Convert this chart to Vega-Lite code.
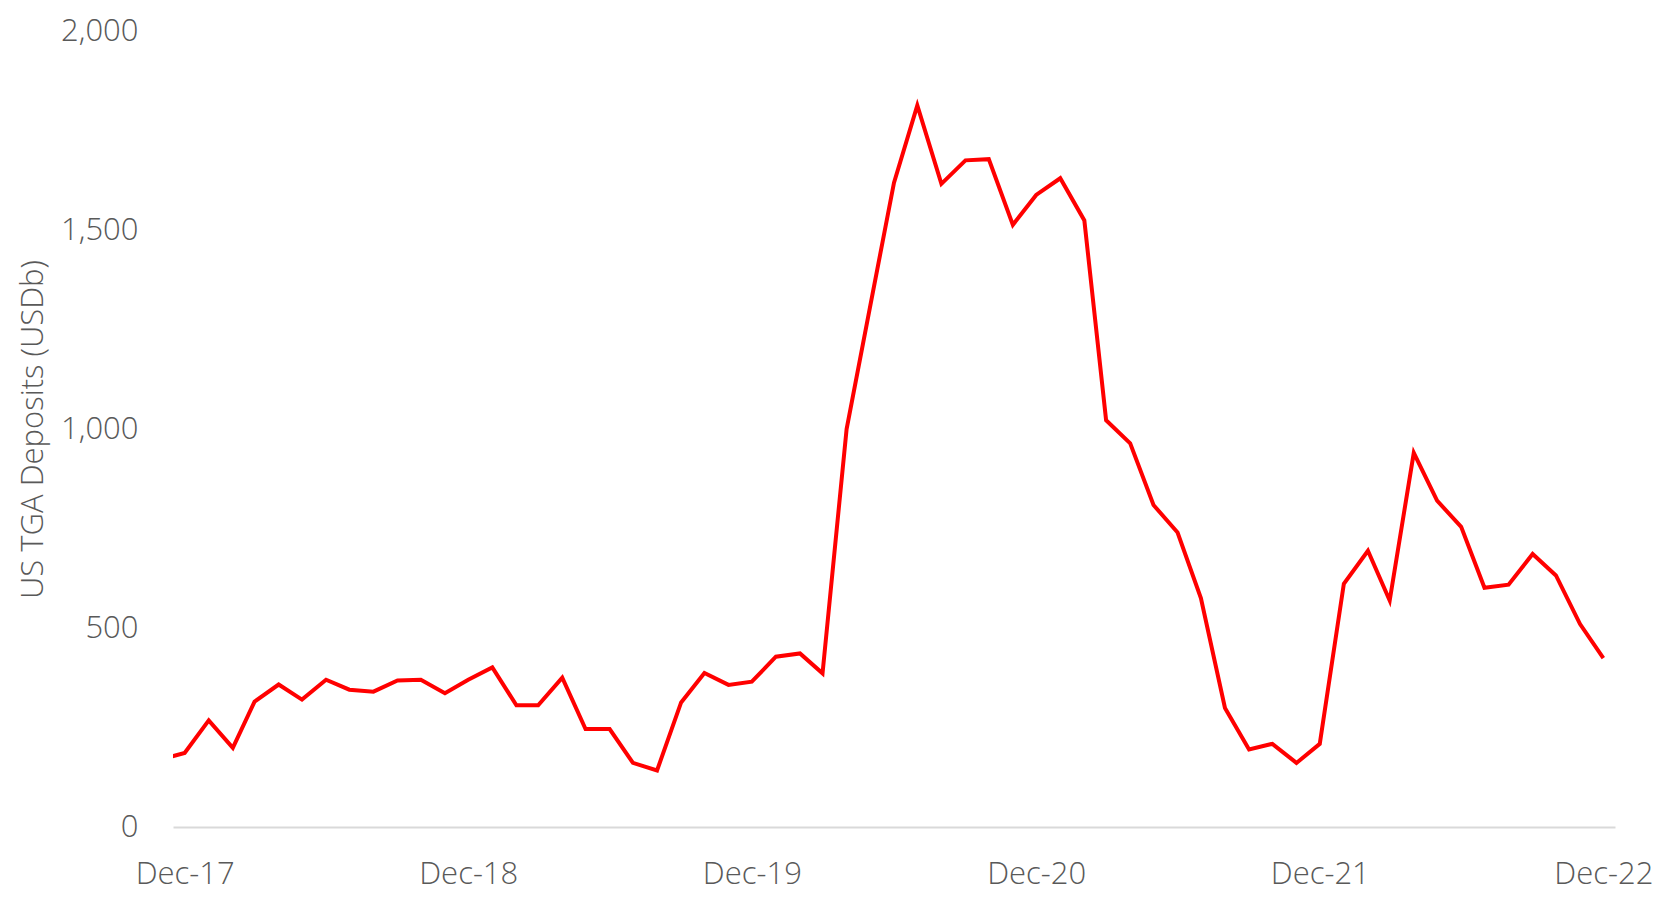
{
  "$schema": "https://vega.github.io/schema/vega-lite/v6.json",
  "autosize": {"type": "none"},
  "width": 1442,
  "height": 796,
  "padding": {"left": 173, "top": 31, "right": 51, "bottom": 79},
  "background": "white",
  "config": {
    "view": {"stroke": null},
    "font": "Open Sans",
    "axis": {
      "labelFont": "Open Sans",
      "titleFont": "Open Sans",
      "labelColor": "#595959",
      "titleColor": "#595959",
      "labelFontWeight": 300,
      "titleFontWeight": 300,
      "labelFontSize": 31,
      "titleFontSize": 31
    }
  },
  "data": {
    "values": [
      {"month": "2017-11-01", "deposits": 170},
      {"month": "2017-12-01", "deposits": 186},
      {"month": "2018-01-01", "deposits": 268},
      {"month": "2018-02-01", "deposits": 199},
      {"month": "2018-03-01", "deposits": 315},
      {"month": "2018-04-01", "deposits": 358},
      {"month": "2018-05-01", "deposits": 320},
      {"month": "2018-06-01", "deposits": 370},
      {"month": "2018-07-01", "deposits": 345},
      {"month": "2018-08-01", "deposits": 340},
      {"month": "2018-09-01", "deposits": 368},
      {"month": "2018-10-01", "deposits": 370},
      {"month": "2018-11-01", "deposits": 336},
      {"month": "2018-12-01", "deposits": 370},
      {"month": "2019-01-01", "deposits": 401},
      {"month": "2019-02-01", "deposits": 306},
      {"month": "2019-03-01", "deposits": 306},
      {"month": "2019-04-01", "deposits": 375},
      {"month": "2019-05-01", "deposits": 246},
      {"month": "2019-06-01", "deposits": 246},
      {"month": "2019-07-01", "deposits": 161},
      {"month": "2019-08-01", "deposits": 142},
      {"month": "2019-09-01", "deposits": 313},
      {"month": "2019-10-01", "deposits": 387},
      {"month": "2019-11-01", "deposits": 357},
      {"month": "2019-12-01", "deposits": 365},
      {"month": "2020-01-01", "deposits": 428},
      {"month": "2020-02-01", "deposits": 436},
      {"month": "2020-03-01", "deposits": 386},
      {"month": "2020-04-01", "deposits": 1000},
      {"month": "2020-05-01", "deposits": 1305},
      {"month": "2020-06-01", "deposits": 1619},
      {"month": "2020-07-01", "deposits": 1813},
      {"month": "2020-08-01", "deposits": 1616},
      {"month": "2020-09-01", "deposits": 1675},
      {"month": "2020-10-01", "deposits": 1678},
      {"month": "2020-11-01", "deposits": 1513},
      {"month": "2020-12-01", "deposits": 1588},
      {"month": "2021-01-01", "deposits": 1630},
      {"month": "2021-02-01", "deposits": 1524},
      {"month": "2021-03-01", "deposits": 1022},
      {"month": "2021-04-01", "deposits": 964},
      {"month": "2021-05-01", "deposits": 809},
      {"month": "2021-06-01", "deposits": 740},
      {"month": "2021-07-01", "deposits": 575},
      {"month": "2021-08-01", "deposits": 299},
      {"month": "2021-09-01", "deposits": 195},
      {"month": "2021-10-01", "deposits": 209},
      {"month": "2021-11-01", "deposits": 161},
      {"month": "2021-12-01", "deposits": 209},
      {"month": "2022-01-01", "deposits": 611},
      {"month": "2022-02-01", "deposits": 694},
      {"month": "2022-03-01", "deposits": 569},
      {"month": "2022-04-01", "deposits": 940},
      {"month": "2022-05-01", "deposits": 820},
      {"month": "2022-06-01", "deposits": 754},
      {"month": "2022-07-01", "deposits": 601},
      {"month": "2022-08-01", "deposits": 609},
      {"month": "2022-09-01", "deposits": 686},
      {"month": "2022-10-01", "deposits": 632},
      {"month": "2022-11-01", "deposits": 510},
      {"month": "2022-12-01", "deposits": 424}
    ]
  },
  "mark": {"type": "line", "color": "#ff0000", "strokeWidth": 4, "clip": true, "strokeJoin": "miter"},
  "encoding": {
    "x": {
      "field": "month",
      "type": "temporal",
      "title": null,
      "scale": {
        "type": "utc",
        "domain": [
          {"year": 2017, "month": 11, "date": 16, "utc": true},
          {"year": 2022, "month": 12, "date": 16, "utc": true}
        ]
      },
      "axis": {
        "values": [
          {"year": 2017, "month": 12, "date": 1, "utc": true},
          {"year": 2018, "month": 12, "date": 1, "utc": true},
          {"year": 2019, "month": 12, "date": 1, "utc": true},
          {"year": 2020, "month": 12, "date": 1, "utc": true},
          {"year": 2021, "month": 12, "date": 1, "utc": true},
          {"year": 2022, "month": 12, "date": 1, "utc": true}
        ],
        "format": "%b-%y",
        "grid": false,
        "ticks": false,
        "domain": true,
        "domainColor": "#d9d9d9",
        "domainWidth": 2,
        "labelPadding": 32,
        "labelFlush": false,
        "labelOverlap": false
      }
    },
    "y": {
      "field": "deposits",
      "type": "quantitative",
      "title": "US TGA Deposits (USDb)",
      "scale": {"domain": [0, 2000], "nice": false, "zero": true},
      "axis": {
        "values": [0, 500, 1000, 1500, 2000],
        "format": ",.0f",
        "grid": false,
        "ticks": false,
        "domain": false,
        "labelPadding": 35,
        "titlePadding": 11
      }
    }
  }
}
